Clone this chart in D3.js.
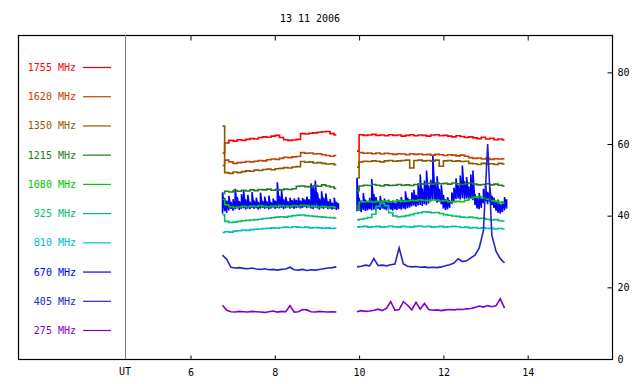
<!DOCTYPE html>
<html>
<head>
<meta charset="utf-8">
<script src="https://cdn.jsdelivr.net/npm/d3@7"></script>
<style>
  body { margin: 0; background: #fff; }
  text { font-family: "DejaVu Sans Mono", monospace; font-size: 10px; }
</style>
</head>
<body>
<svg width="640" height="384"></svg>
<script>
var title = "13 11 2006";
var freqs = ["1755", "1620", "1350", "1215", "1080", "925", "810", "670", "405", "275"];
var colors = ["#ff0000", "#c84000", "#8b5a00", "#227a22", "#00c800", "#00c070", "#00c0c0", "#0000ff", "#2424c4", "#8000c8"];
var xTicks = [6, 8, 10, 12, 14];
var yTicks = [0, 20, 40, 60, 80];

// two observing runs, sampled every 0.1 h (670 MHz every 0.05 h as min/max)
var hours1 = d3.range(28).map(function(i) { return 6.76 + i * 0.1; });
var hours2 = d3.range(36).map(function(i) { return 9.95 + i * 0.1; });
var fine1 = d3.range(56).map(function(i) { return 6.76 + i * 0.05; });
var fine2 = d3.range(72).map(function(i) { return 9.95 + i * 0.05; });

var f1755_1 = [57.5,60.3,61.0,60.8,61.2,61.0,61.3,61.5,61.4,61.8,62.0,61.9,62.2,62.4,61.8,61.2,61.0,61.1,61.3,62.9,62.8,63.0,63.1,63.3,63.4,63.5,62.9,62.5];
var f1755_2 = [58.0,62.6,62.4,62.5,62.7,62.4,62.5,62.3,62.6,62.4,62.5,62.2,62.4,62.6,62.3,62.5,62.4,62.2,62.5,62.6,62.3,62.4,62.2,62.0,62.3,62.1,61.8,62.0,61.7,61.5,61.9,61.4,61.6,61.2,61.4,61.1];
var f1620_1 = [54.0,55.5,55.0,54.6,54.8,54.9,55.1,55.0,55.2,55.4,55.3,55.6,55.8,55.7,56.0,56.3,56.2,56.4,56.5,57.6,57.4,57.5,57.2,57.3,57.0,56.8,56.6,56.8];
var f1620_2 = [53.5,57.6,57.4,57.5,57.3,57.5,57.2,57.4,57.3,57.1,57.3,57.2,57.0,57.3,57.1,57.2,57.0,57.1,56.9,57.1,57.0,56.8,57.0,56.9,56.7,56.9,56.6,56.2,56.0,56.1,55.8,56.0,55.7,55.9,55.8,55.9];
var f1350_1 = [65.0,52.0,51.8,52.2,52.0,52.3,52.5,52.4,52.7,52.6,52.9,53.0,52.8,53.1,53.2,53.4,53.3,53.6,53.7,55.1,54.9,55.0,54.7,54.8,54.6,54.4,54.5,54.2];
var f1350_2 = [50.5,55.0,55.2,55.1,55.3,55.2,55.0,55.3,55.4,55.2,55.3,55.4,55.5,53.3,55.4,55.5,55.3,55.4,55.2,55.5,53.8,55.3,55.4,55.2,55.3,55.1,55.2,54.6,54.5,54.3,54.6,54.4,54.5,54.3,54.6,54.4];
var f1215_1 = [46.2,46.8,46.6,47.0,46.8,47.1,46.9,47.2,47.0,47.3,47.2,47.4,47.1,47.3,47.2,47.4,47.3,47.5,48.2,48.3,48.1,48.0,48.4,48.2,48.6,48.3,48.0,47.6];
var f1215_2 = [47.0,48.3,48.5,48.4,48.7,48.5,48.3,48.6,48.4,48.5,48.7,48.5,48.6,48.4,48.7,48.9,48.8,49.0,48.8,49.1,48.9,49.0,48.8,49.1,48.9,48.7,48.9,49.1,48.8,48.6,48.7,48.9,48.6,48.8,48.5,48.3];
var f1080_1 = [44.5,43.0,42.5,42.3,42.4,42.6,42.5,42.7,42.6,42.8,42.6,42.5,42.7,42.6,42.8,42.7,42.6,42.8,42.7,42.9,42.8,42.6,42.7,42.5,42.6,42.4,42.5,42.3];
var f1080_2 = [41.5,43.8,43.9,44.0,43.8,44.0,43.9,44.1,43.9,44.0,44.2,44.0,44.1,44.3,44.2,44.4,44.3,44.2,44.4,44.3,44.1,44.2,43.9,43.8,44.0,43.9,44.3,44.8,45.1,45.3,45.0,44.6,44.2,44.0,43.7,43.5];
var f925_1 = [40.3,38.4,38.1,38.2,38.4,38.6,38.7,38.8,38.9,39.0,39.2,39.3,39.4,39.6,39.7,39.6,39.8,40.0,40.1,40.2,40.0,39.9,39.8,39.7,39.6,39.5,39.4,39.3];
var f925_2 = [38.8,39.0,39.2,39.5,40.4,42.6,43.4,42.8,40.8,39.9,39.7,39.8,40.0,40.3,40.6,40.8,41.1,41.0,40.8,40.9,40.6,40.3,40.1,39.9,39.8,39.6,39.5,39.6,39.4,39.2,39.3,39.0,38.8,38.9,38.6,38.5];
var f810_1 = [35.3,35.5,35.4,35.7,35.8,36.0,35.9,36.1,36.2,36.3,36.4,36.5,36.6,36.5,36.7,36.8,36.7,36.9,36.8,36.7,36.8,36.6,36.7,36.6,36.5,36.6,36.4,36.5];
var f810_2 = [36.8,36.9,37.0,36.8,36.9,37.0,36.8,36.9,37.1,36.9,36.8,37.0,36.9,36.8,37.0,37.1,36.9,37.0,36.8,36.9,37.0,36.8,36.9,37.0,36.9,36.7,36.8,36.6,36.7,36.5,36.6,36.4,36.5,36.3,36.4,36.3];
var f405_1 = [29.0,27.8,25.6,25.4,25.5,25.3,25.2,25.4,25.1,25.0,25.2,24.9,25.0,24.8,25.0,25.1,25.6,24.9,24.8,25.0,24.7,24.9,24.8,25.0,25.2,25.4,25.5,25.7];
var f405_2 = [25.7,25.9,26.2,26.0,28.0,26.1,26.2,26.0,26.3,26.5,31.0,26.5,25.9,25.7,25.8,25.6,25.7,25.5,25.6,25.5,25.7,26.0,26.3,26.8,28.0,27.2,27.4,28.2,29.0,31.0,35.8,60.0,34.5,30.0,28.0,26.8];
var f275_1 = [15.0,13.6,13.2,13.1,13.3,13.2,13.1,13.3,13.2,13.1,13.0,13.2,13.4,13.1,13.3,13.2,14.9,13.1,13.2,13.8,13.7,13.2,13.1,13.3,13.2,13.1,13.2,13.1];
var f275_2 = [13.2,13.5,13.3,13.4,13.6,13.9,13.5,14.2,16.0,13.6,13.8,16.0,15.0,13.7,15.8,13.9,15.5,13.8,13.6,13.7,13.5,13.7,13.8,13.7,13.9,13.8,14.0,14.1,14.4,14.8,14.5,14.9,14.6,14.9,16.8,14.2];

// 670 MHz is noisy: low / high value in each 0.05 h bin
var f670lo_1 = [40.6,41.2,40.8,41.5,41.9,41.4,41.8,42.0,41.6,41.9,42.1,41.7,42.0,41.8,42.2,41.9,42.1,41.7,42.0,42.2,41.9,42.1,41.8,42.0,42.3,41.9,42.1,42.0,42.2,41.8,42.1,42.3,42.0,42.2,41.9,42.1,42.3,42.0,42.2,42.4,42.1,42.3,42.0,41.8,42.2,42.0,41.7,42.1,41.9,42.2,41.8,42.0,41.7,41.9,41.6,41.8];
var f670hi_1 = [46.5,45.0,44.2,45.5,43.8,44.6,47.5,45.2,44.0,46.0,47.0,44.5,45.8,43.9,46.6,44.2,45.0,43.8,46.4,44.1,45.3,44.0,45.6,43.7,44.8,44.2,49.3,45.5,47.0,44.5,45.2,44.0,45.0,44.3,44.8,44.4,45.1,44.2,44.9,44.5,45.3,44.6,49.0,48.2,49.8,46.5,44.8,46.8,45.0,46.2,44.0,44.6,43.6,45.0,43.8,43.5];
var f670lo_2 = [41.2,41.4,41.0,41.6,41.3,41.5,41.8,41.5,41.7,41.4,41.9,41.6,42.0,41.8,41.5,41.9,41.7,41.4,41.8,41.6,41.9,41.7,42.0,41.8,42.1,42.3,42.6,42.8,42.5,42.9,43.0,42.7,43.2,42.9,43.4,44.0,44.5,44.2,43.6,43.8,43.2,42.0,41.6,41.8,42.2,43.5,44.0,44.6,44.8,44.5,44.9,44.6,44.8,44.4,44.7,44.3,43.0,42.0,41.8,42.2,43.5,44.0,43.2,43.8,43.0,42.2,41.4,40.8,40.6,41.0,41.5,42.0];
var f670hi_2 = [50.5,45.0,44.2,46.3,44.5,43.8,45.0,50.2,46.0,45.2,44.0,45.5,44.2,44.8,43.9,44.5,43.8,44.2,43.6,44.6,44.0,45.2,44.3,46.8,45.0,44.6,46.5,47.2,45.8,48.5,51.5,47.6,49.8,52.6,48.4,50.0,56.8,49.2,51.0,47.5,48.6,45.8,44.6,45.2,44.0,46.5,47.8,50.4,48.5,51.2,54.0,49.6,50.8,48.2,51.5,52.6,46.0,45.0,46.3,44.8,47.5,48.4,46.6,48.0,45.5,45.0,43.8,44.5,43.2,44.0,45.2,44.6];

var series = {
  "1755": [f1755_1, f1755_2], "1620": [f1620_1, f1620_2], "1350": [f1350_1, f1350_2],
  "1215": [f1215_1, f1215_2], "1080": [f1080_1, f1080_2], "925": [f925_1, f925_2],
  "810": [f810_1, f810_2], "405": [f405_1, f405_2], "275": [f275_1, f275_2]
};

var svg = d3.select("svg"),
    frameL = 18, frameT = 35, frameR = 612, frameB = 359;

var x = d3.scaleLinear().domain([6, 16]).range([190.5, frameR]),
    y = d3.scaleLinear().domain([0, 90]).range([frameB, 36.5]),
    color = d3.scaleOrdinal().domain(freqs).range(colors),
    legendY = d3.scalePoint().domain(freqs).range([67.5, 330.5]);

svg.append("text")
    .attr("x", 310).attr("y", 18).attr("dy", "0.35em")
    .attr("text-anchor", "middle")
    .text(title);

// frame
svg.append("rect")
    .attr("x", frameL + 0.5).attr("y", frameT + 0.5)
    .attr("width", frameR - frameL).attr("height", frameB - frameT)
    .attr("fill", "none").attr("stroke", "#000").attr("stroke-width", 1.2);

// separator between legend and plot
svg.append("line")
    .attr("x1", 125.5).attr("x2", 125.5).attr("y1", frameT).attr("y2", frameB)
    .attr("stroke", "#808080");

svg.append("text")
    .attr("x", 125).attr("y", 375)
    .attr("text-anchor", "middle")
    .text("UT");

var xBottom = svg.append("g")
    .attr("transform", "translate(0," + (frameB + 0.5) + ")")
    .call(d3.axisBottom(x).tickValues(xTicks).tickSizeInner(-4).tickSizeOuter(0).tickPadding(9));
xBottom.select(".domain").remove();

var xTop = svg.append("g")
    .attr("transform", "translate(0," + (frameT + 0.5) + ")")
    .call(d3.axisTop(x).tickValues(xTicks).tickSizeInner(-5).tickSizeOuter(0).tickFormat(""));
xTop.select(".domain").remove();

var yRight = svg.append("g")
    .attr("transform", "translate(" + (frameR + 0.5) + ",0)")
    .call(d3.axisRight(y).tickValues(yTicks).tickSizeInner(-5).tickSizeOuter(0).tickPadding(5));
yRight.select(".domain").remove();

svg.selectAll(".tick text")
    .attr("font-family", "DejaVu Sans Mono, monospace")
    .attr("font-size", 10)
    .attr("fill", "#000");
svg.selectAll(".tick line").attr("stroke", "#000");

// legend
var legend = svg.append("g").selectAll("g")
  .data(freqs)
  .enter().append("g")
    .attr("transform", function(d) { return "translate(0," + legendY(d) + ")"; });

legend.append("text")
    .attr("x", 76).attr("dy", "0.35em")
    .attr("text-anchor", "end")
    .attr("fill", function(d) { return color(d); })
    .text(function(d) { return d + " MHz"; });

legend.append("line")
    .attr("x1", 83).attr("x2", 111)
    .attr("stroke", function(d) { return color(d); })
    .attr("stroke-width", 1.2);

var plot = svg.append("g");

// 670 MHz drawn first as vertical min/max strokes
var zig = d3.line()
    .x(function(d) { return x(d[0]); })
    .y(function(d) { return y(d[1]); });

[[fine1, f670lo_1, f670hi_1], [fine2, f670lo_2, f670hi_2]].forEach(function(s) {
  var pts = [];
  s[0].forEach(function(h, i) { pts.push([h, s[1][i]], [h, s[2][i]]); });
  plot.append("path")
      .attr("d", zig(pts))
      .attr("fill", "none")
      .attr("stroke", color("670"))
      .attr("stroke-width", 1.6);
});

var stepLine = d3.line()
    .curve(d3.curveStep)
    .x(function(d) { return x(d[0]); })
    .y(function(d) { return y(d[1]); });
var spikeLine = d3.line()
    .x(function(d) { return x(d[0]); })
    .y(function(d) { return y(d[1]); });

["1755", "1620", "1350", "1215", "1080", "925", "810", "275", "405"].forEach(function(f) {
  var gen = (f === "405" || f === "275") ? spikeLine : stepLine;
  [hours1, hours2].forEach(function(hours, k) {
    var vals = series[f][k];
    plot.append("path")
        .attr("d", gen(vals.map(function(v, i) { return [hours[i], v]; })))
        .attr("fill", "none")
        .attr("stroke", color(f))
        .attr("stroke-width", 1.6);
  });
});
</script>
</body>
</html>
